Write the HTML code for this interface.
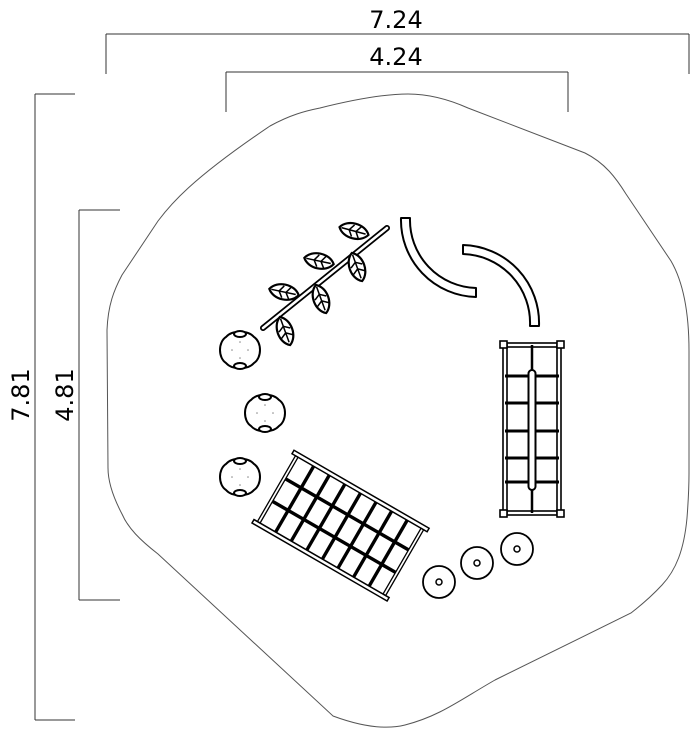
<!DOCTYPE html>
<html><head><style>
html,body{margin:0;padding:0;background:#fff;}
svg{display:block;}
text{font-family:"DejaVu Sans","Liberation Sans",sans-serif;fill:#000;}
</style></head><body>
<svg width="700" height="732" viewBox="0 0 700 732" xmlns="http://www.w3.org/2000/svg">
<defs>
<g id="leaf">
<path d="M-15,0 C-9,-10 9,-10 15,0 C9,10 -9,10 -15,0 Z" fill="#fff" stroke="#000" stroke-width="2.2"/>
<path d="M-13,0 L12,0 M-5,0 L-1,-6 M-5,0 L-1,6 M2,0 L6,-6 M2,0 L6,6" stroke="#000" stroke-width="1.5" fill="none"/>
</g>
<g id="stump">
<path d="M-14,-13 C-22,-8 -22,8 -14,13 C-8,20 8,20 14,13 C22,8 22,-8 14,-13 C8,-20 -8,-20 -14,-13 Z" fill="#fff" stroke="#000" stroke-width="2"/>
<ellipse cx="0" cy="-16" rx="6" ry="3" fill="#fff" stroke="#000" stroke-width="2"/>
<ellipse cx="0" cy="16" rx="6" ry="3" fill="#fff" stroke="#000" stroke-width="2"/>
<circle cx="-8" cy="0" r="0.8" fill="#888"/><circle cx="8" cy="0" r="0.8" fill="#888"/>
<circle cx="0" cy="-8" r="0.8" fill="#888"/><circle cx="0" cy="8" r="0.8" fill="#888"/>
</g>
<g id="step">
<circle r="16" fill="#fff" stroke="#000" stroke-width="1.8"/>
<circle r="3" fill="#fff" stroke="#000" stroke-width="1.5"/>
</g>
</defs>

<g stroke="#333" stroke-width="1" fill="none">
<line x1="106" y1="34" x2="689" y2="34"/>
<line x1="106" y1="34" x2="106" y2="74"/>
<line x1="689" y1="34" x2="689" y2="74"/>
<line x1="226" y1="72" x2="568" y2="72"/>
<line x1="226" y1="72" x2="226" y2="112"/>
<line x1="568" y1="72" x2="568" y2="112"/>
<line x1="35" y1="94" x2="35" y2="720"/>
<line x1="35" y1="94" x2="75" y2="94"/>
<line x1="35" y1="720" x2="75" y2="720"/>
<line x1="79" y1="210" x2="79" y2="600"/>
<line x1="79" y1="210" x2="120" y2="210"/>
<line x1="79" y1="600" x2="120" y2="600"/>
</g>
<text x="396" y="28" font-size="24" text-anchor="middle">7.24</text>
<text x="396" y="65" font-size="24" text-anchor="middle">4.24</text>
<text transform="translate(29,395) rotate(-90)" font-size="24" text-anchor="middle">7.81</text>
<text transform="translate(73,395) rotate(-90)" font-size="24" text-anchor="middle">4.81</text>

<path d="M320,108 C360,98 390,94 408,94 C430,94 450,100 468,108 L585,153 C605,163 616,178 626,194 L671,261 C682,280 689,310 689,351 L689,473 C689,490 688,505 687,518 C684,550 676,570 662,585 C650,598 640,606 631,613 L495,680 C460,700 440,716 405,725 C385,730 360,726 333,716 L158,554 C140,540 128,528 122,514 C112,495 108,480 108,468 L107,330 C108,305 114,290 122,275 L158,221 C170,205 190,180 270,126 C290,115 305,111 320,108 Z" fill="none" stroke="#555" stroke-width="1"/>

<line x1="263" y1="328" x2="387" y2="228" stroke="#000" stroke-width="6" stroke-linecap="round"/>
<line x1="263" y1="328" x2="387" y2="228" stroke="#fff" stroke-width="2.5" stroke-linecap="round"/>
<use href="#leaf" transform="translate(354,231) rotate(15)"/>
<use href="#leaf" transform="translate(319,261) rotate(12)"/>
<use href="#leaf" transform="translate(284,292) rotate(12)"/>
<use href="#leaf" transform="translate(357,267) rotate(70)"/>
<use href="#leaf" transform="translate(321,299) rotate(70)"/>
<use href="#leaf" transform="translate(285,331) rotate(70)"/>

<path d="M401,218 A77,77 0 0 0 476,297 L476,288 A68,68 0 0 1 410,218 Z" fill="#fff" stroke="#000" stroke-width="2" stroke-linejoin="round"/>
<path d="M463,245 A78,78 0 0 1 539,326 L530,326 A69,69 0 0 0 463,254 Z" fill="#fff" stroke="#000" stroke-width="2" stroke-linejoin="round"/>

<use href="#stump" transform="translate(240,350)"/>
<use href="#stump" transform="translate(265,413)"/>
<use href="#stump" transform="translate(240,477)"/>

<g stroke="#000" fill="none">
<rect x="503" y="345" width="4" height="168" stroke-width="1.6"/>
<rect x="557" y="345" width="4" height="168" stroke-width="1.6"/>
<rect x="505" y="343" width="54" height="4" stroke-width="1.6"/>
<rect x="505" y="511" width="54" height="4" stroke-width="1.6"/>
<g stroke-width="3">
<line x1="505" y1="376" x2="559" y2="376"/>
<line x1="505" y1="403" x2="559" y2="403"/>
<line x1="505" y1="431" x2="559" y2="431"/>
<line x1="505" y1="458" x2="559" y2="458"/>
<line x1="505" y1="482" x2="559" y2="482"/>
</g>
<line x1="532" y1="345" x2="532" y2="513" stroke-width="2.5"/>
<rect x="528.5" y="370" width="7" height="120" rx="3.5" fill="#fff" stroke-width="2"/>
<g fill="#fff" stroke-width="1.6">
<rect x="500" y="341" width="7" height="7"/><rect x="557" y="341" width="7" height="7"/>
<rect x="500" y="510" width="7" height="7"/><rect x="557" y="510" width="7" height="7"/>
</g>
</g>

<g transform="translate(293,452) rotate(30)" stroke="#000" fill="none">
<rect x="0" y="-2" width="156" height="4" stroke-width="1.5" fill="#fff"/>
<rect x="0" y="78" width="156" height="4" stroke-width="1.5" fill="#fff"/>
<rect x="4" y="2" width="3" height="76" stroke-width="1.3"/>
<rect x="149" y="2" width="3" height="76" stroke-width="1.3"/>
<g stroke-width="3.4">
<line x1="7" y1="27" x2="149" y2="27"/>
<line x1="7" y1="53" x2="149" y2="53"/>
<line x1="25" y1="2" x2="25" y2="78"/>
<line x1="43" y1="2" x2="43" y2="78"/>
<line x1="61" y1="2" x2="61" y2="78"/>
<line x1="79" y1="2" x2="79" y2="78"/>
<line x1="97" y1="2" x2="97" y2="78"/>
<line x1="115" y1="2" x2="115" y2="78"/>
<line x1="133" y1="2" x2="133" y2="78"/>
</g>
</g>

<use href="#step" transform="translate(439,582)"/>
<use href="#step" transform="translate(477,563)"/>
<use href="#step" transform="translate(517,549)"/>
</svg>
</body></html>
